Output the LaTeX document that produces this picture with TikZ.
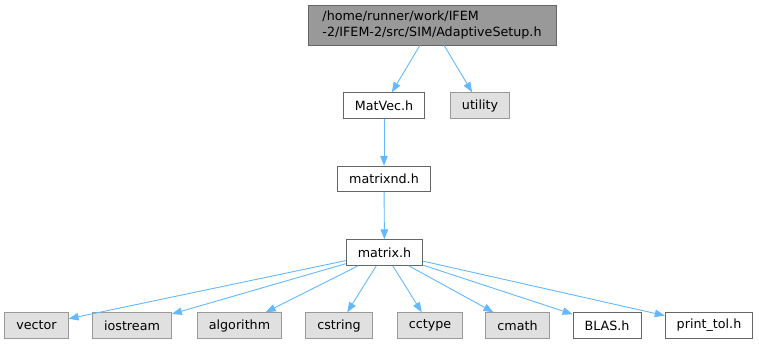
\documentclass[tikz,border=0pt]{standalone}
\usepackage{fontspec}
\setmainfont{DejaVu Sans}
\usetikzlibrary{arrows.meta}
\definecolor{edgeblue}{HTML}{63B8FF}
\definecolor{rootfill}{HTML}{999999}
\definecolor{rootline}{HTML}{666666}
\definecolor{extfill}{HTML}{E0E0E0}
\definecolor{extline}{HTML}{999999}
\begin{document}
\begin{tikzpicture}[x=1pt, y=-1pt,
    hdr/.style={draw=rootline, fill=white, line width=0.9pt, inner xsep=11.5pt,
        inner ysep=0pt, minimum height=25.5pt, font=\fontsize{12.7}{15.5}\selectfont},
    syshdr/.style={hdr, draw=extline, fill=extfill},
    incl/.style={draw=edgeblue, line width=0.9pt, -{Triangle[length=10pt, width=7.5pt]}}]
    % 画布大小
    \useasboundingbox (0,0) rectangle (759,344);

    % 根节点
    \node[hdr, draw=rootline, fill=rootfill, align=left, minimum width=248pt,
        minimum height=40pt] (adaptive) at (432,25)
        {/home/runner/work/IFEM\\-2/IFEM-2/src/SIM/AdaptiveSetup.h};

    % 第二层
    \node[hdr] (matvec) at (384,105.5) {MatVec.h};
    \node[syshdr] (utility) at (480,105.5) {utility};

    % 中间层
    \node[hdr] (matrixnd) at (384,179) {matrixnd.h};
    \node[hdr] (matrix) at (384.5,252.5) {matrix.h};

    % 最下面一行
    \node[syshdr] (vector) at (36.5,325.5) {vector};
    \node[syshdr] (iostream) at (132,325.5) {iostream};
    \node[syshdr] (algorithm) at (239.5,325.5) {algorithm};
    \node[syshdr] (cstring) at (339,325.5) {cstring};
    \node[syshdr] (cctype) at (430,325.5) {cctype};
    \node[syshdr] (cmath) at (517.5,325.5) {cmath};
    \node[hdr] (blas) at (607,325.5) {BLAS.h};
    \node[hdr] (printtol) at (709,325.5) {print\_tol.h};

    % 根节点的依赖
    \draw[incl] (adaptive) -- (matvec);
    \draw[incl] (adaptive) -- (utility);

    % 中间的链
    \draw[incl] (matvec) -- (matrixnd);
    \draw[incl] (matrixnd) -- (matrix);

    % matrix.h 的依赖
    \draw[incl] (matrix) -- (vector);
    \draw[incl] (matrix) -- (iostream);
    \draw[incl] (matrix) -- (algorithm);
    \draw[incl] (matrix) -- (cstring);
    \draw[incl] (matrix) -- (cctype);
    \draw[incl] (matrix) -- (cmath);
    \draw[incl] (matrix) -- (blas);
    \draw[incl] (matrix) -- (printtol);
\end{tikzpicture}
\end{document}
